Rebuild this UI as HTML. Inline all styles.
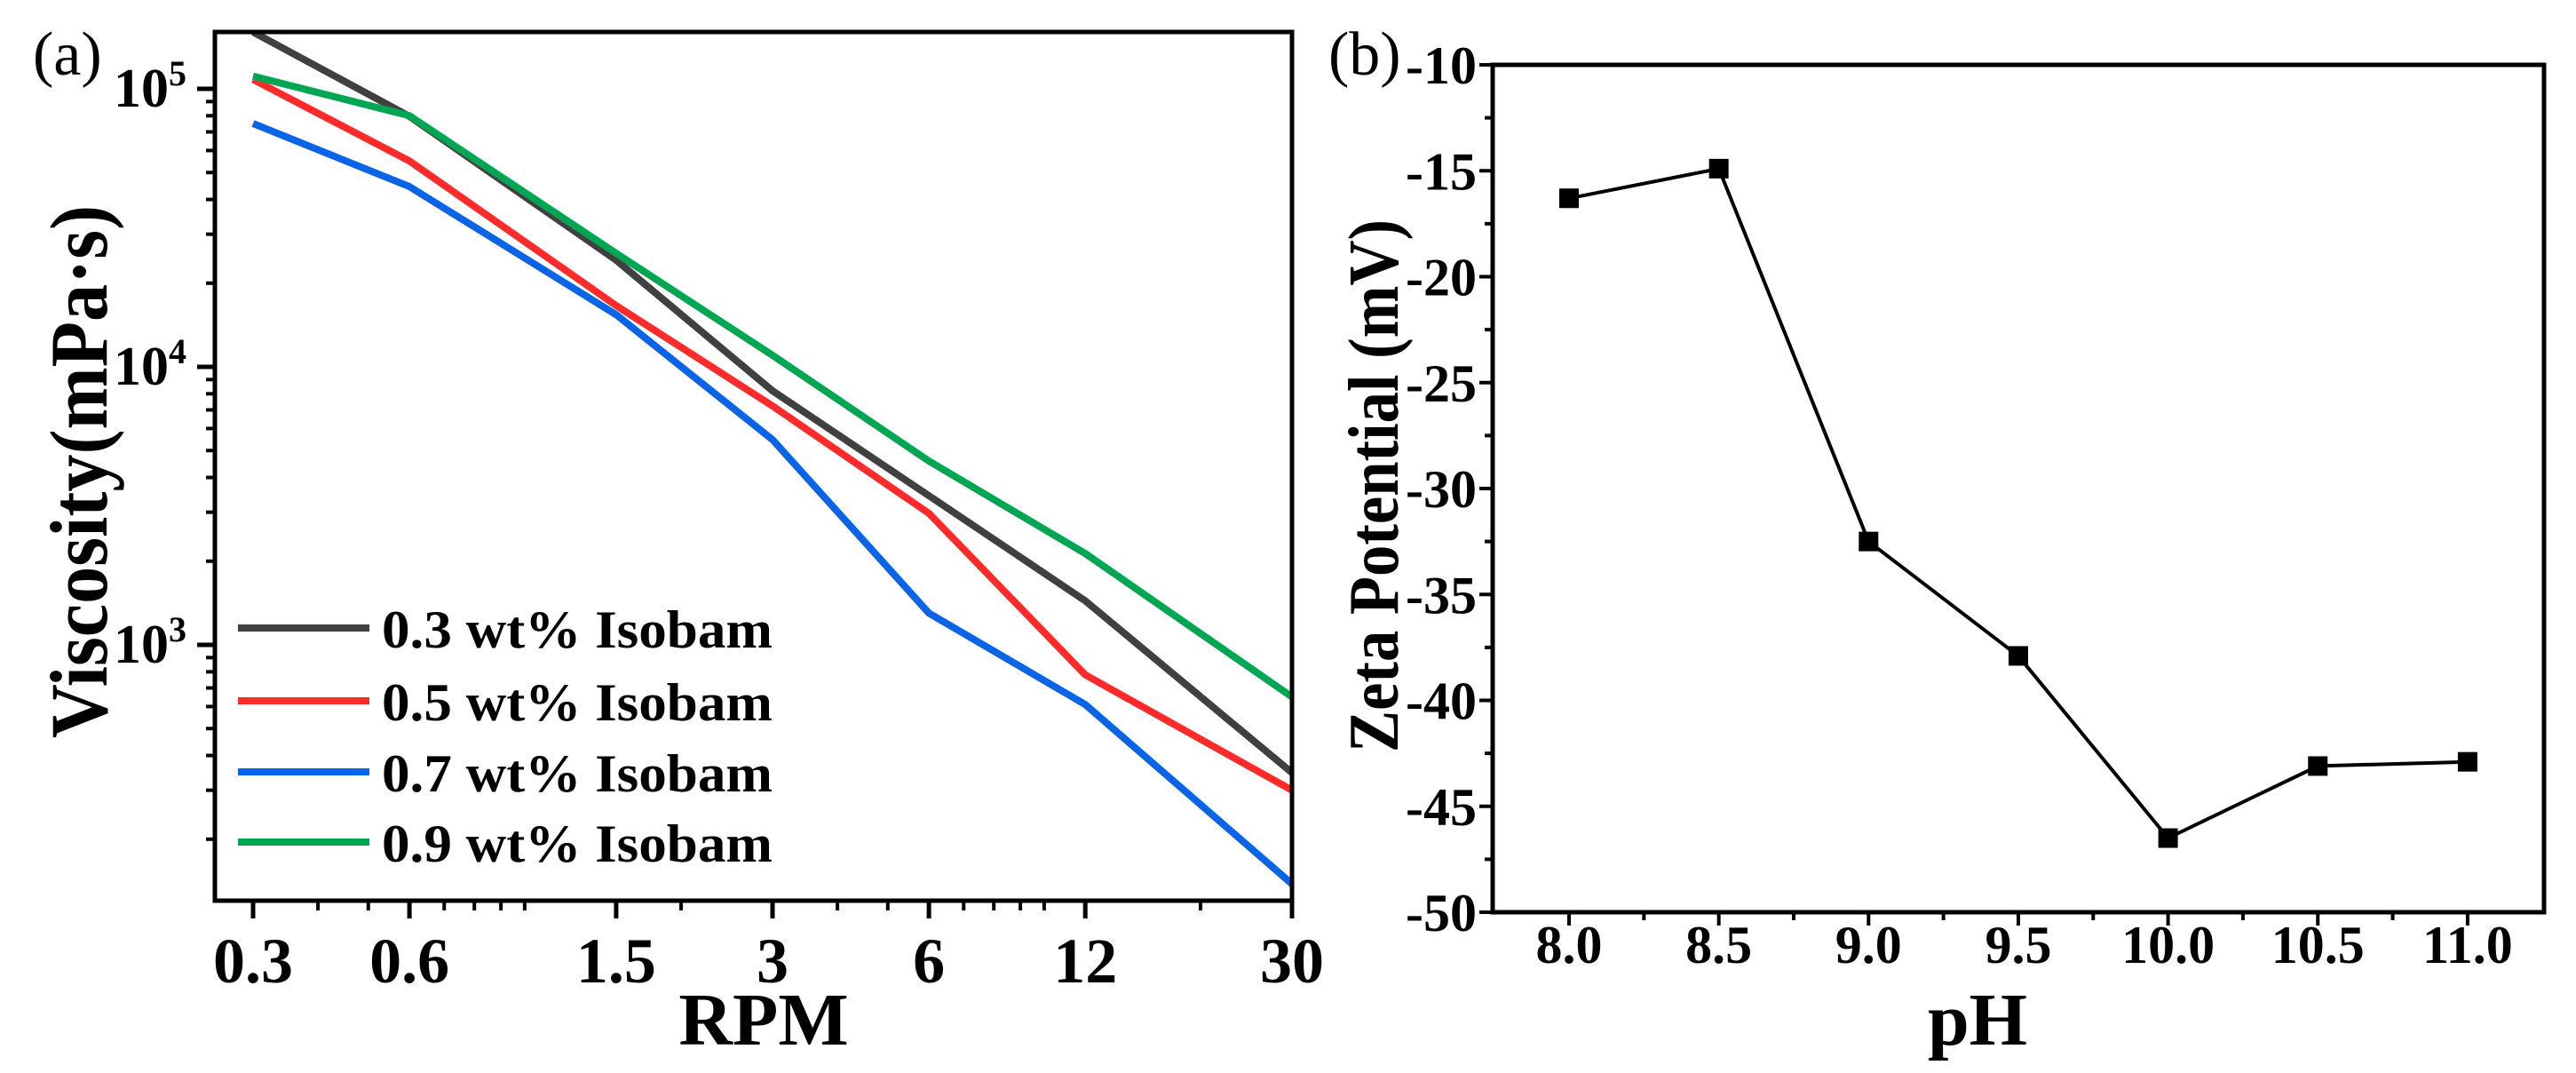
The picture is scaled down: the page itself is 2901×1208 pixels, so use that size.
<!DOCTYPE html>
<html><head><meta charset="utf-8"><style>
html,body{margin:0;padding:0;background:#fff;}
svg{display:block;font-family:"Liberation Serif",serif;}
</style></head><body>
<svg id="fig" width="2901" height="1208" viewBox="0 0 2901 1208" xmlns="http://www.w3.org/2000/svg">
<g id="pa"></g>
<g id="pb"></g>
</svg>
<script>
const rpm = [0.3, 0.6, 1.5, 3, 6, 12, 30];
const visc03 = [160000, 79600, 24200, 8200, 3440, 1440, 347];
const visc05 = [108000, 55000, 16600, 7230, 2970, 780, 300];
const visc07 = [75000, 44500, 15400, 5470, 1300, 610, 138];
const visc09 = [111000, 80000, 25600, 11000, 4580, 2130, 650];
const seriesNames = ["0.3 wt% Isobam","0.5 wt% Isobam","0.7 wt% Isobam","0.9 wt% Isobam"];
const xTickLabelsA = ["0.3","0.6","1.5","3","6","12","30"];
const yDecadesA = [3,4,5];
const ph = [8.0, 8.5, 9.0, 9.5, 10.0, 10.5, 11.0];
const zeta = [-16.3, -14.9, -32.5, -37.9, -46.5, -43.1, -42.9];
const xTickLabelsB = ["8.0","8.5","9.0","9.5","10.0","10.5","11.0"];
const yTicksB = [-10,-15,-20,-25,-30,-35,-40,-45,-50];

const NS="http://www.w3.org/2000/svg";
function mk(parent, tag, attrs, text){
  const e=document.createElementNS(NS,tag);
  for(const k in attrs) e.setAttribute(k,attrs[k]);
  if(text!==undefined) e.textContent=text;
  parent.appendChild(e); return e;
}
// ---- Panel A ----
const pa=document.getElementById('pa');
const A={l:242,r:1455,t:36,b:1014};
const xA=v=>285+585*(Math.log10(v)-Math.log10(0.3));
const yA=v=>100+(5-Math.log10(v))*313;
let clip=mk(pa,'clipPath',{id:'clipA'});
mk(clip,'rect',{x:A.l,y:A.t,width:A.r-A.l,height:A.b-A.t});
const colors=["#404040","#ff2a2a","#0a64e6","#00a651"];
const allA=[visc03,visc05,visc07,visc09];
allA.forEach((s,i)=>{
  const d=s.map((v,j)=>(j?'L':'M')+xA(rpm[j]).toFixed(1)+','+yA(v).toFixed(1)).join(' ');
  const p=mk(pa,'path',{d:d,fill:'none',stroke:colors[i],'stroke-width':8,'stroke-linejoin':'round','clip-path':'url(#clipA)'});
  
  
});
let fr=mk(pa,'rect',{x:A.l,y:A.t,width:A.r-A.l,height:A.b-A.t,fill:'none',stroke:'#000','stroke-width':5});


// y ticks (log)
yDecadesA.forEach(dcd=>{
  const y=yA(Math.pow(10,dcd));
  mk(pa,'line',{x1:A.l-20,x2:A.l,y1:y,y2:y,stroke:'#000','stroke-width':5});
  const t=mk(pa,'text',{x:210,y:y+20,'text-anchor':'end','font-size':62,'font-weight':'bold'});
  
  
  mk(t,'tspan',{},'10');
  mk(t,'tspan',{dy:-24,'font-size':40},String(dcd));
});
for(let dcd=2;dcd<=5;dcd++){for(let m=2;m<=9;m++){const v=m*Math.pow(10,dcd);const y=yA(v);if(y>A.t+2&&y<A.b-2)mk(pa,'line',{x1:A.l-10,x2:A.l,y1:y,y2:y,stroke:'#000','stroke-width':4});}}
// x ticks
rpm.forEach((v,i)=>{
  const x=xA(v);
  mk(pa,'line',{x1:x,x2:x,y1:A.b,y2:A.b+20,stroke:'#000','stroke-width':5});
  const t=mk(pa,'text',{x:x,y:1106,'text-anchor':'middle','font-size':72,'font-weight':'bold'},xTickLabelsA[i]);
  
  
});
for(let dcd=-1;dcd<=1;dcd++){for(let m=1;m<=9;m++){const v=m*Math.pow(10,dcd);const x=xA(v);if(x>A.l+4&&x<A.r-4&&rpm.indexOf(v)<0)mk(pa,'line',{x1:x,x2:x,y1:A.b,y2:A.b+11,stroke:'#000','stroke-width':4});}}
let t=mk(pa,'text',{x:860,y:1176,'text-anchor':'middle','font-size':84,'font-weight':'bold'},'RPM');


t=mk(pa,'text',{x:0,y:0,'text-anchor':'middle','font-size':92,'font-weight':'bold',transform:'translate(120,531) rotate(-90)',textLength:600,lengthAdjust:'spacingAndGlyphs'},'Viscosity(mPa·s)');


t=mk(pa,'text',{x:37,y:84,'font-size':70},'(a)');


const legY=[707,789,869,948];
seriesNames.forEach((n,i)=>{
  const g=mk(pa,'g',{});
  
  
  mk(g,'line',{x1:268,x2:416,y1:legY[i],y2:legY[i],stroke:colors[i],'stroke-width':8});
  mk(g,'text',{x:430,y:legY[i]+22,'font-size':60,'font-weight':'bold',textLength:440,lengthAdjust:'spacingAndGlyphs'},n);
});
// ---- Panel B ----
const pb=document.getElementById('pb');
const B={l:1681,r:2865,t:73,b:1027};
const xB=v=>1767+337.3*(v-8);
const yB=v=>73+(-10-v)*23.85;
fr=mk(pb,'rect',{x:B.l,y:B.t,width:B.r-B.l,height:B.b-B.t,fill:'none',stroke:'#000','stroke-width':5});


yTicksB.forEach(v=>{
  const y=yB(v);
  mk(pb,'line',{x1:B.l-15,x2:B.l,y1:y,y2:y,stroke:'#000','stroke-width':4});
  const tt=mk(pb,'text',{x:1663,y:y+21,'text-anchor':'end','font-size':60,'font-weight':'bold'},String(v));
  
  
});
for(let v=-12.5;v>-50;v-=5){const y=yB(v);mk(pb,'line',{x1:B.l-9,x2:B.l,y1:y,y2:y,stroke:'#000','stroke-width':4});}
ph.forEach((v,i)=>{
  const x=xB(v);
  mk(pb,'line',{x1:x,x2:x,y1:B.b,y2:B.b+15,stroke:'#000','stroke-width':4});
  const tt=mk(pb,'text',{x:x,y:1084,'text-anchor':'middle','font-size':60,'font-weight':'bold'},xTickLabelsB[i]);
  
  
});
for(let v=7.75;v<=11.3;v+=0.5){const x=xB(v);if(x>B.l+3&&x<B.r-3)mk(pb,'line',{x1:x,x2:x,y1:B.b,y2:B.b+9,stroke:'#000','stroke-width':4});}
const dB=ph.map((v,j)=>(j?'L':'M')+xB(v).toFixed(1)+','+yB(zeta[j]).toFixed(1)).join(' ');
let ln=mk(pb,'path',{d:dB,fill:'none',stroke:'#000','stroke-width':4});


ph.forEach((v,j)=>{
  const m=mk(pb,'rect',{x:xB(v)-11,y:yB(zeta[j])-11,width:22,height:22,fill:'#000'});
  
  
});
t=mk(pb,'text',{x:2227,y:1176,'text-anchor':'middle','font-size':84,'font-weight':'bold'},'pH');


t=mk(pb,'text',{x:0,y:0,'text-anchor':'middle','font-size':80,'font-weight':'bold',transform:'translate(1574,547) rotate(-90)',textLength:600,lengthAdjust:'spacingAndGlyphs'},'Zeta Potential (mV)');


t=mk(pb,'text',{x:1496,y:84,'font-size':70},'(b)');


</script>
</body></html>
